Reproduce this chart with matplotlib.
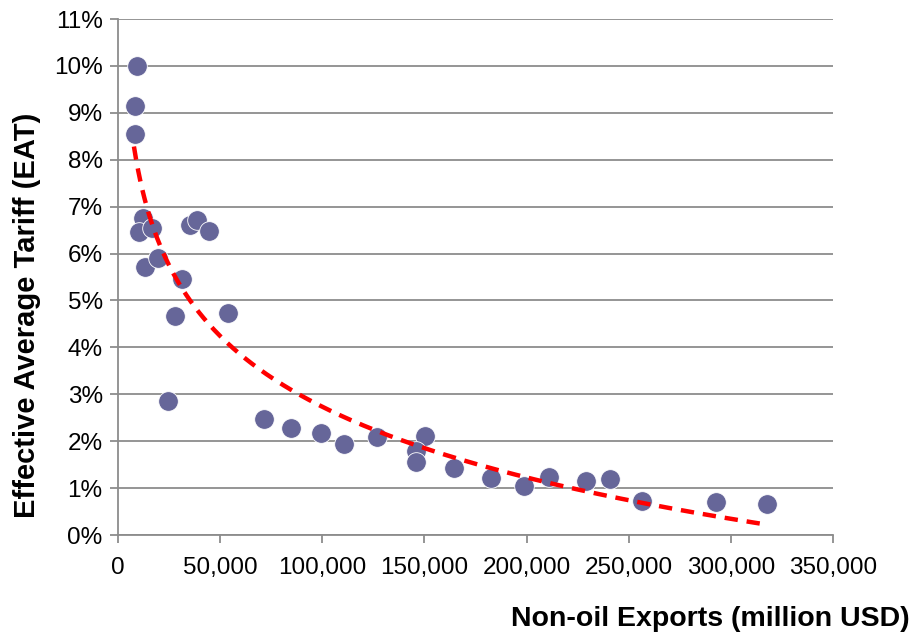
import numpy as np
import matplotlib
matplotlib.use("Agg")
import matplotlib.pyplot as plt
from matplotlib.ticker import FuncFormatter, MultipleLocator

plt.rcParams['font.family'] = ['Liberation Sans', 'DejaVu Sans']

# Non-oil exports (million USD) and effective average tariff (%)
exports = [9300, 8300, 8300, 12200, 10300, 16600, 13200, 19600, 31300, 27900,
           53800, 35200, 38700, 44500, 24500, 71500, 84700, 99400, 110600, 126800,
           150300, 146000, 146000, 164500, 182500, 198700, 211000, 229000, 240800,
           256500, 292700, 317700]
eat = [10.0, 9.15, 8.55, 6.76, 6.46, 6.55, 5.71, 5.9, 5.46, 4.67,
       4.73, 6.6, 6.72, 6.48, 2.86, 2.47, 2.28, 2.17, 1.94, 2.09,
       2.11, 1.8, 1.55, 1.43, 1.21, 1.04, 1.24, 1.15, 1.19,
       0.73, 0.71, 0.67]

x = np.array(exports, dtype=float)
y = np.array(eat)

# logarithmic trend line: y = a + b*ln(x)
b, a = np.polyfit(np.log(x), y, 1)
xt = np.linspace(x.min() * 0.94, x.max() * 0.995, 300)
yt = a + b * np.log(xt)

fig = plt.figure(figsize=(9.14, 6.37), dpi=100)
ax = fig.add_axes([118 / 914, 1 - 535 / 637, (833 - 118) / 914, (535 - 19) / 637])

ax.scatter(x, y, s=200, color='#666699', edgecolors='white', linewidths=0.6, zorder=3)
ax.plot(xt, yt, color='#ff0000', lw=3.2, ls=(0, (3, 2)), zorder=4)

ax.set_xlim(0, 350000)
ax.set_ylim(0, 11)
ax.xaxis.set_major_locator(MultipleLocator(50000))
ax.yaxis.set_major_locator(MultipleLocator(1))
ax.xaxis.set_major_formatter(FuncFormatter(lambda v, p: f"{int(v):,}"))
ax.yaxis.set_major_formatter(FuncFormatter(lambda v, p: f"{int(round(v))}%"))

ax.grid(axis='y', color='#8c8c8c', lw=1.3)
ax.set_axisbelow(True)
for s in ['top', 'right']:
    ax.spines[s].set_visible(False)
for s in ['left', 'bottom']:
    ax.spines[s].set_color('#8c8c8c')
    ax.spines[s].set_linewidth(1.3)
ax.tick_params(axis='both', colors='#8c8c8c', length=6, width=1.3, labelsize=17.5,
               labelcolor='black')
ax.tick_params(axis='x', pad=10)
ax.tick_params(axis='y', pad=5)

fig.text(27 / 914, 1 - 315 / 637, 'Effective Average Tariff (EAT)', fontsize=21,
         fontweight='bold', rotation=90, ha='center', va='center')
fig.text(910 / 914, 1 - 619 / 637, 'Non-oil Exports (million USD)', fontsize=20.5,
         fontweight='bold', ha='right', va='center')

fig.savefig('out.png', dpi=100)
